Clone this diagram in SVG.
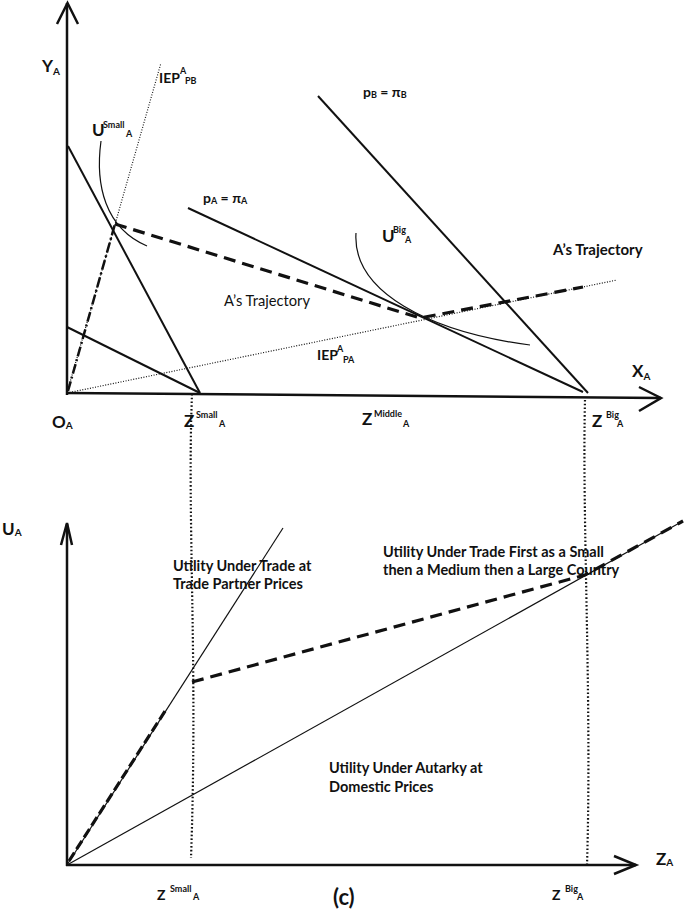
<svg xmlns="http://www.w3.org/2000/svg" width="685" height="910" viewBox="0 0 685 910">
<style>
  text { font-family: Lato, "Liberation Sans", sans-serif; fill: #111; }
  .b { font-weight: bold; font-size: 17px; }
  .m { font-weight: bold; font-size: 14px; }
  .u { font-weight: bold; font-size: 14.5px; }
  .t { font-weight: bold; font-size: 15px; }
  .r { font-weight: normal; font-size: 14.7px; }
  .s { font-size: 9px; font-weight: bold; }
  .sa { font-size: 10px; font-weight: bold; }
  .c { font-weight: bold; font-size: 22px; }
  .axis { stroke: #111; stroke-width: 2.5; fill: none; }
  .bud { stroke: #111; stroke-width: 2; fill: none; }
  .thin { stroke: #111; stroke-width: 1.2; fill: none; }
  .dot { stroke: #111; stroke-width: 1.2; stroke-dasharray: 1 1.6; fill: none; }
  .vdot { stroke: #111; stroke-width: 2.2; stroke-dasharray: 1.6 2.2; fill: none; }
  .dash { stroke: #111; stroke-width: 3.2; stroke-dasharray: 12 7; fill: none; }
  .dashdot { stroke: #111; stroke-width: 2.5; stroke-dasharray: 10 3 2 3; fill: none; }
</style>
<rect width="685" height="910" fill="#fff"/>

<g id="connectors">
  <line class="axis" x1="67" y1="395" x2="67" y2="3"/>
  <polyline class="axis" points="57,24 67.5,3 78,24"/>
  <line class="axis" x1="66" y1="393" x2="661" y2="398"/>
  <polyline class="axis" points="639,387 661,398 639,411"/>

  <line class="dot" x1="67" y1="393" x2="161" y2="63"/>
  <line class="dot" x1="67" y1="393" x2="617" y2="280"/>
  <line class="dashdot" x1="68" y1="391" x2="115" y2="224"/>

  <line class="bud" x1="68" y1="146" x2="200" y2="393"/>
  <line class="bud" x1="67" y1="327" x2="200" y2="393"/>
  <line class="bud" x1="188" y1="208" x2="583" y2="392"/>
  <line class="bud" x1="318" y1="96" x2="588" y2="393"/>

  <path class="thin" d="M101,141 C95,185 105,228 147,246"/>
  <path class="thin" d="M356,233 C352,292 430,332 530,345"/>

  <polyline class="dash" points="115,224 420,318 583,287"/>

  <path class="vdot" d="M192,394 C187,520 198,660 191,858"/>
  <path class="vdot" d="M585,400 C582,520 592,700 587,865"/>

  <line class="axis" x1="67" y1="866" x2="67" y2="524"/>
  <polyline class="axis" points="61,545 67,523 72,545"/>
  <line class="axis" x1="66" y1="865" x2="636" y2="865"/>
  <polyline class="axis" points="614,856 636,865 614,874"/>

  <line class="thin" x1="67" y1="865" x2="283" y2="528"/>
  <line class="thin" x1="67" y1="865" x2="683" y2="521"/>
  <line class="dash" x1="69" y1="861" x2="167" y2="708" style="stroke-dasharray:10 4"/>
  <polyline class="dash" points="192,682 585,575 683,521"/>
</g>

<g id="axis-labels">
  <text class="b" x="42" y="72">Y<tspan class="sa" dy="3">A</tspan></text>
  <text class="b" x="632" y="377">X<tspan class="sa" dy="3">A</tspan></text>
  <text class="b" x="52" y="428">O<tspan class="sa" dy="1">A</tspan></text>
  <text class="b" x="2" y="535">U<tspan class="sa" dy="1">A</tspan></text>
  <text class="b" x="656" y="865">Z<tspan class="sa" dy="1">A</tspan></text>
</g>

<g id="z-labels">
  <text class="b" x="184" y="427">Z</text>
  <text class="s" x="196" y="418">Small</text>
  <text class="s" x="219" y="427">A</text>

  <text class="b" x="362" y="425">Z</text>
  <text class="s" x="374" y="417">Middle</text>
  <text class="s" x="403" y="427">A</text>

  <text class="b" x="592" y="427">Z</text>
  <text class="s" x="606" y="418">Big</text>
  <text class="s" x="617" y="427">A</text>

  <text class="m" x="157" y="900">Z</text>
  <text class="s" x="170" y="892">Small</text>
  <text class="s" x="193" y="900">A</text>

  <text class="m" x="552" y="900">Z</text>
  <text class="s" x="565" y="892">Big</text>
  <text class="s" x="577" y="900">A</text>

  <text class="c" x="333" y="905">(c)</text>
</g>

<g id="iep-pb-label">
  <text class="m" x="159" y="83">IEP</text>
  <text class="s" x="180" y="74">A</text>
  <text class="s" x="185" y="84">PB</text>
</g>

<g id="iep-pa-label">
  <text class="m" x="317" y="360">IEP</text>
  <text class="s" x="337" y="352">A</text>
  <text class="s" x="343" y="363">PA</text>
</g>

<g id="u-small-label">
  <text class="b" x="92" y="136">U</text>
  <text class="s" x="103" y="128">Small</text>
  <text class="s" x="126" y="137">A</text>
</g>

<g id="u-big-label">
  <text class="b" x="382" y="242">U</text>
  <text class="s" x="393" y="233">Big</text>
  <text class="s" x="405" y="243">A</text>
</g>

<g id="price-labels">
  <text class="m" x="203" y="203">p<tspan class="s" dy="1">A</tspan><tspan dy="-1"> = π</tspan><tspan class="s" dy="1">A</tspan></text>
  <text class="m" x="363" y="97">p<tspan class="s" dy="1">B</tspan><tspan dy="-1"> = π</tspan><tspan class="s" dy="1">B</tspan></text>
</g>

<g id="trajectory-labels">
  <text class="t" x="553" y="255">A’s Trajectory</text>
  <text class="r" x="224" y="306">A’s Trajectory</text>
</g>

<g id="utility-labels">
  <text class="u" x="173" y="571">Utility Under Trade at</text>
  <text class="u" x="173" y="589">Trade Partner Prices</text>
  <text class="u" x="383" y="557">Utility Under Trade First as a Small</text>
  <text class="u" x="383" y="575">then a Medium then a Large Country</text>
  <text class="u" x="329" y="773">Utility Under Autarky at</text>
  <text class="u" x="329" y="792">Domestic Prices</text>
</g>
</svg>
